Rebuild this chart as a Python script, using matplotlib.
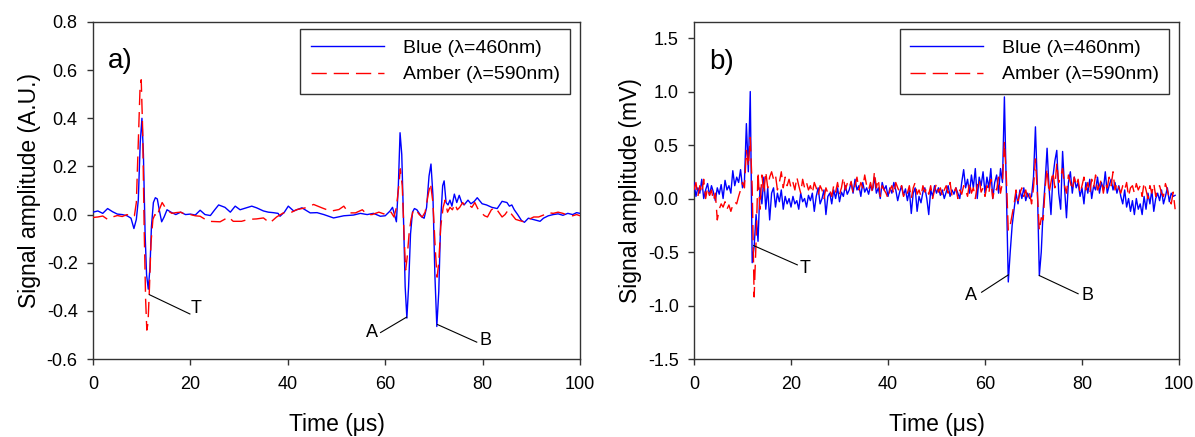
import numpy as np
import matplotlib
matplotlib.use("Agg")
import matplotlib.pyplot as plt

plt.rcParams['font.family'] = ['Liberation Sans', 'DejaVu Sans']
plt.rcParams['axes.unicode_minus'] = False

# ---------------- Panel a data (A.U.) ----------------
t_blue_a = [0, 1, 2, 3, 4, 5, 6, 7, 7.8, 8.4, 8.9, 9.3, 9.7, 10.05, 10.35, 10.7, 11.0, 11.35, 11.7,
            12.0, 12.4, 12.8, 13.2, 13.6, 14.1, 14.6, 15.2, 16, 17, 18, 19, 20, 21, 22, 23, 24.1, 25,
            25.8, 27.1, 28.2, 29.2, 30.2, 31.3, 32.6, 33.6, 35, 36, 37, 38, 38.4, 39.3, 40.1, 41.2,
            42.9, 44.6, 46, 47.4, 49.4, 51.5, 53.5, 54.9, 56.3, 57.6, 59, 60, 61, 61.5, 61.9, 62.3,
            62.7, 63.05, 63.4, 63.8, 64.1, 64.45, 64.8, 65.2, 65.6, 66.0, 66.5, 67.0, 67.5, 68.0,
            68.5, 69.0, 69.4, 69.8, 70.2, 70.6, 71.0, 71.4, 71.8, 72.1, 72.5, 72.9, 73.3, 73.7,
            74.2, 74.7, 75.2, 75.7, 76.2, 77, 77.6, 78.3, 78.9, 79.9, 80.8, 81.9, 83, 84, 85, 85.5,
            86, 86.5, 87.2, 88, 88.6, 89.4, 90.3, 91.8, 92.5, 93.5, 94.5, 95.5, 96.5, 97.5, 98.5,
            99.3, 100]
v_blue_a = [0.010, 0.015, 0.005, 0.025, 0.012, 0.002, 0.0, -0.005, -0.015, -0.058, -0.02, 0.06,
            0.30, 0.40, 0.25, -0.08, -0.25, -0.31, -0.22, -0.05, 0.05, 0.07, 0.065, 0.02, -0.03,
            -0.01, 0.02, 0.01, 0.0, 0.01, 0.0, 0.002, -0.002, 0.018, 0.0, -0.004, 0.02, 0.04, 0.03,
            0.01, 0.035, 0.02, 0.027, 0.035, 0.028, 0.015, 0.01, 0.008, 0.005, -0.007, 0.01, 0.035,
            0.015, 0.028, 0.007, 0.008, 0.0, -0.014, -0.005, -0.002, 0.005, 0.0, 0.005, -0.007,
            -0.005, 0.015, 0.03, 0.0, -0.03, 0.12, 0.34, 0.25, -0.05, -0.30, -0.43, -0.30, -0.08,
            0.01, 0.025, 0.02, 0.005, -0.01, -0.015, 0.03, 0.16, 0.21, 0.08, -0.25, -0.465, -0.32,
            -0.02, 0.12, 0.14, 0.05, 0.04, 0.06, 0.035, 0.085, 0.05, 0.08, 0.05, 0.04, 0.06, 0.045,
            0.055, 0.07, 0.045, 0.04, 0.03, 0.025, 0.055, 0.05, 0.035, 0.04, 0.02, 0.0, -0.025,
            -0.032, -0.015, -0.02, -0.028, -0.015, -0.005, 0.0, 0.003, -0.003, 0.005, 0.0, 0.008,
            0.005]

t_red_a = [0, 1, 2, 3, 4, 5, 6, 7, 7.8, 8.5, 8.9, 9.3, 9.65, 9.9, 10.2, 10.5, 10.8, 11.05, 11.3,
           11.6, 11.9, 12.3, 12.7, 13.1, 13.6, 14.2, 14.8, 15.4, 16.2, 17, 18, 19, 20, 21, 22, 23.7,
           26.1, 27.0, 27.8, 28.8, 30.5, 31.9, 33.6, 35, 36.3, 37.7, 39.1, 40.5, 41.9, 43.6, 45.3,
           47, 48.8, 50.5, 51.5, 52.5, 53.9, 55.3, 56.3, 57.3, 58.7, 60.4, 61.2, 61.8, 62.3, 62.8,
           63.1, 63.5, 63.9, 64.2, 64.5, 64.9, 65.3, 65.8, 66.3, 67, 67.6, 68.2, 68.8, 69.3, 69.8,
           70.3, 70.65, 71.0, 71.4, 71.9, 72.3, 72.8, 73.3, 73.8, 74.3, 74.8, 75.3, 75.9, 76.5,
           77.2, 77.8, 78.4, 79, 79.6, 80.4, 81.0, 81.8, 82.6, 83.3, 84.0, 84.6, 85.3, 86, 86.8,
           87.6, 88.5, 89.5, 90.5, 91.5, 92.5, 93.5, 94.5, 95.5, 96.5, 97.5, 98.5, 99.3, 100]
v_red_a = [-0.012, -0.01, -0.006, -0.02, -0.01, -0.004, -0.008, 0.0, -0.01, -0.005, 0.05, 0.30,
           0.52, 0.56, 0.35, -0.05, -0.35, -0.48, -0.45, -0.30, -0.12, -0.02, 0.0, -0.01, 0.02,
           0.05, 0.03, 0.015, 0.005, 0.008, 0.01, 0.0, 0.0, -0.005, -0.007, -0.028, -0.03, -0.02,
           -0.01, -0.028, -0.028, -0.02, -0.018, -0.014, -0.035, -0.01, 0.007, 0.007, 0.021, 0.028,
           0.042, 0.028, 0.014, 0.021, 0.035, 0.007, 0.007, 0.02, 0.0, 0.0, 0.01, -0.002, 0.01,
           -0.01, 0.03, 0.12, 0.19, 0.12, -0.1, -0.23, -0.18, -0.08, -0.02, 0.02, 0.02, 0.0, -0.01,
           0.01, 0.08, 0.13, 0.05, -0.15, -0.26, -0.2, -0.05, 0.03, 0.06, 0.01, 0.03, 0.02, 0.045,
           0.02, 0.03, 0.05, 0.035, 0.04, 0.03, 0.05, 0.025, 0.01, -0.005, -0.01, 0.02, 0.03, 0.01,
           -0.01, 0.0, 0.02, 0.0, -0.02, -0.025, -0.03, -0.02, -0.01, -0.01, -0.002, 0.008, 0.005,
           0.01, 0.005, -0.003, -0.005, 0.0, -0.005]

# ---------------- Panel b data (mV), sampled every 0.4 us from 0 to 99.2 us ----------------
b_t_start, b_t_step = 0.0, 0.4
v_blue_b = [
    0.15, 0.02, 0.10, 0.05, 0.18, 0.00, 0.08, 0.14, 0.03, 0.12,
    0.06, -0.02, 0.10, 0.04, 0.13, 0.00, 0.17, 0.08, 0.12, 0.05,
    0.26, 0.12, 0.20, 0.15, 0.27, 0.10, 0.16, 0.70, 0.25, 1.00,
    -0.60, -0.45, -0.15, -0.40, 0.10, -0.05, 0.20, -0.10, 0.10, -0.20,
    0.05, 0.10, -0.08, 0.05, -0.03, 0.08, -0.10, 0.02, -0.05, 0.00,
    -0.08, 0.02, -0.05, -0.02, -0.10, 0.05, -0.03, 0.00, -0.08, 0.03,
    -0.02, 0.05, -0.12, 0.02, 0.10, -0.05, 0.00, 0.08, -0.15, 0.02,
    0.05, -0.05, 0.08, 0.00, 0.10, -0.03, 0.06, 0.02, 0.12, 0.04,
    0.08, 0.15, 0.05, 0.18, 0.08, 0.12, 0.02, 0.15, 0.06, 0.10,
    0.04, 0.12, 0.08, 0.20, 0.05, 0.10, 0.00, 0.15, 0.08, 0.12,
    0.02, 0.10, 0.05, 0.15, 0.08, -0.02, 0.06, 0.12, 0.03, 0.09,
    -0.02, 0.08, -0.14, 0.05, 0.10, -0.12, 0.02, -0.04, 0.06, 0.10,
    0.00, -0.15, 0.08, 0.02, 0.12, 0.05, 0.10, 0.03, 0.08, 0.00,
    0.06, 0.12, 0.02, 0.08, 0.04, 0.10, 0.05, 0.00, 0.15, 0.27,
    0.10, 0.18, 0.05, 0.22, 0.10, 0.28, 0.00, 0.20, 0.12, 0.25,
    0.05, 0.20, 0.10, 0.28, 0.00, 0.15, 0.22, 0.05, 0.28, 0.15,
    0.95, 0.10, -0.78, -0.50, -0.25, -0.10, 0.05, -0.05, 0.08, 0.00,
    0.10, -0.02, 0.05, 0.00, 0.02, 0.20, 0.67, 0.10, -0.72, -0.50,
    -0.10, 0.15, 0.47, 0.10, -0.15, 0.20, 0.35, 0.45, 0.05, -0.10,
    0.44, 0.10, -0.18, 0.15, 0.25, 0.05, 0.20, 0.10, 0.15, 0.02,
    0.10, -0.05, 0.15, 0.05, 0.18, 0.00, 0.12, 0.08, 0.20, 0.05,
    0.15, 0.08, 0.25, 0.05, 0.12, 0.18, 0.08, 0.15, 0.05, 0.12,
    0.02, -0.05, 0.08, -0.08, 0.00, -0.12, -0.02, -0.15, 0.00, -0.10,
    -0.05, -0.15, 0.02, -0.10, 0.05, -0.05, 0.08, -0.12, 0.00, 0.05,
    -0.02, 0.08, -0.05, 0.02, 0.10, -0.03, 0.05, 0.02, 0.03]
v_red_b = [
    0.08, 0.15, 0.02, 0.12, 0.05, 0.18, 0.00, 0.10, 0.03, 0.08,
    -0.02, 0.05, -0.20, -0.10, -0.05, -0.08, -0.03, -0.10, -0.06, -0.12,
    -0.06, -0.03, -0.05, 0.02, 0.08, 0.15, 0.10, 0.45, 0.30, 0.57,
    0.10, -0.92, -0.40, 0.25, -0.10, 0.22, 0.05, 0.25, 0.10, 0.20,
    0.25, 0.18, 0.22, 0.08, 0.15, 0.25, 0.10, 0.20, 0.12, 0.18,
    0.10, 0.15, 0.08, 0.20, 0.12, 0.05, 0.18, 0.10, 0.15, 0.08,
    0.12, 0.05, 0.15, 0.10, 0.03, 0.12, 0.08, 0.00, 0.10, 0.05,
    0.08, 0.02, 0.12, 0.06, 0.15, 0.04, 0.10, 0.20, 0.08, 0.14,
    0.10, 0.16, 0.05, 0.12, 0.20, 0.08, 0.15, 0.10, 0.22, 0.12,
    0.08, 0.15, 0.05, 0.25, 0.10, 0.18, 0.02, 0.12, 0.08, 0.05,
    0.00, 0.08, 0.12, 0.04, 0.15, 0.10, 0.06, 0.12, 0.02, 0.08,
    0.05, 0.12, 0.00, 0.10, 0.15, 0.04, 0.08, 0.02, 0.12, 0.06,
    0.10, 0.04, 0.12, 0.00, 0.08, 0.14, 0.06, 0.10, 0.02, 0.08,
    0.12, 0.05, 0.15, 0.02, 0.06, 0.10, 0.00, 0.08, 0.04, 0.12,
    0.08, 0.02, 0.15, 0.05, 0.10, 0.00, 0.12, 0.18, 0.06, 0.10,
    0.02, 0.12, 0.05, 0.18, 0.00, 0.10, 0.08, 0.20, 0.05, 0.15,
    0.53, 0.20, -0.30, -0.25, -0.15, -0.05, 0.08, -0.02, 0.05, 0.10,
    0.02, 0.08, 0.00, 0.05, -0.05, 0.10, 0.37, 0.05, -0.30, -0.18,
    -0.20, 0.10, 0.28, 0.05, 0.15, 0.25, 0.10, 0.33, 0.15, 0.20,
    0.28, 0.12, 0.05, 0.22, 0.15, 0.08, 0.20, 0.12, 0.18, 0.05,
    0.12, 0.20, 0.08, 0.15, 0.05, 0.18, 0.10, 0.22, 0.08, 0.12,
    0.18, 0.05, 0.15, 0.10, 0.20, 0.12, 0.25, 0.08, 0.15, 0.10,
    0.05, 0.12, 0.08, 0.15, 0.02, 0.10, 0.12, 0.05, 0.14, 0.08,
    0.12, 0.02, 0.15, 0.08, 0.00, 0.12, 0.05, 0.14, 0.02, 0.10,
    0.12, 0.05, 0.02, 0.14, 0.08, 0.00, -0.05, 0.06, -0.10]

series_labels = ["Blue (\u03bb=460nm)", "Amber (\u03bb=590nm)"]
panel_letters = ["a)", "b)"]
y_labels = ["Signal amplitude (A.U.)", "Signal amplitude (mV)"]
x_label = "Time (\u03bcs)"
x_ticks = [0, 20, 40, 60, 80, 100]
y_ticks_a = [-0.6, -0.4, -0.2, 0.0, 0.2, 0.4, 0.6, 0.8]
y_ticks_b = [-1.5, -1.0, -0.5, 0.0, 0.5, 1.0, 1.5]

# annotation (start point on curve, end of leader line, text position)
ann_a = [("T", (11.6, -0.333), (19.9, -0.413), (20.1, -0.408), "left"),
         ("A", (64.4, -0.426), (59.05, -0.49), (58.5, -0.507), "right"),
         ("B", (70.75, -0.457), (78.8, -0.53), (79.4, -0.542), "left")]
ann_b = [("T", (12.3, -0.44), (21.3, -0.62), (21.8, -0.696), "left"),
         ("A", (64.8, -0.714), (59.3, -0.876), (58.4, -0.944), "right"),
         ("B", (71.2, -0.72), (79.2, -0.89), (79.9, -0.944), "left")]

t_b = b_t_start + b_t_step * np.arange(len(v_blue_b))

fig = plt.figure(figsize=(11.95, 4.37), dpi=100)
W, H = 1195, 437
ax_a = fig.add_axes([93 / W, 1 - 359 / H, (580 - 93) / W, (359 - 22) / H])
ax_b = fig.add_axes([694 / W, 1 - 359 / H, (1179 - 694) / W, (359 - 22) / H])

blue = '#0000ff'
red = '#ff0000'
dash = (0, (11, 5))

def style(ax, ylim, yticks, ylabel, fmt):
    ax.set_xlim(0, 100)
    ax.set_ylim(*ylim)
    ax.set_xticks(x_ticks)
    ax.set_yticks(yticks)
    ax.set_yticklabels([fmt % v for v in yticks])
    ax.tick_params(direction='out', length=4, width=1, labelsize=13, top=False, right=False,
                   color='#333333')
    ax.tick_params(axis='x', pad=8)
    ax.tick_params(axis='y', pad=7)
    for s in ax.spines.values():
        s.set_color('#333333')
        s.set_linewidth(1.0)
    ax.set_xlabel(x_label, fontsize=16.5, labelpad=15)
    ax.set_ylabel(ylabel, fontsize=16.5, labelpad=4)

# panel a
ax_a.plot(t_blue_a, v_blue_a, color=blue, lw=1.0, label=series_labels[0], zorder=3)
ax_a.plot(t_red_a, v_red_a, color=red, lw=1.0, linestyle=dash, label=series_labels[1], zorder=4)
style(ax_a, (-0.6, 0.8), y_ticks_a, y_labels[0], "%.1f")
ax_a.text(3.0, 0.636, panel_letters[0], fontsize=20, ha='left', va='center')

# panel b
ax_b.plot(t_b, v_blue_b, color=blue, lw=1.0, label=series_labels[0], zorder=3)
ax_b.plot(t_b, v_red_b, color=red, lw=1.0, linestyle=dash, label=series_labels[1], zorder=4)
style(ax_b, (-1.5, 1.65), y_ticks_b, y_labels[1], "%.1f")
ax_b.text(3.1, 1.28, panel_letters[1], fontsize=20, ha='left', va='center')

for ax, anns in ((ax_a, ann_a), (ax_b, ann_b)):
    for lab, p0, p1, pt, ha in anns:
        ax.plot([p0[0], p1[0]], [p0[1], p1[1]], color='black', lw=0.8, zorder=5)
        ax.text(pt[0], pt[1], lab, fontsize=13, ha=ha, va='baseline')
    leg = ax.legend(loc='upper right', bbox_to_anchor=(0.98, 0.98), borderaxespad=0,
                    fontsize=14, handlelength=3.75, handletextpad=0.95, labelspacing=0.45,
                    fancybox=False, framealpha=1, edgecolor='#333333', borderpad=0.55)
    leg.get_frame().set_linewidth(1.0)

fig.savefig('out.png', dpi=100)
